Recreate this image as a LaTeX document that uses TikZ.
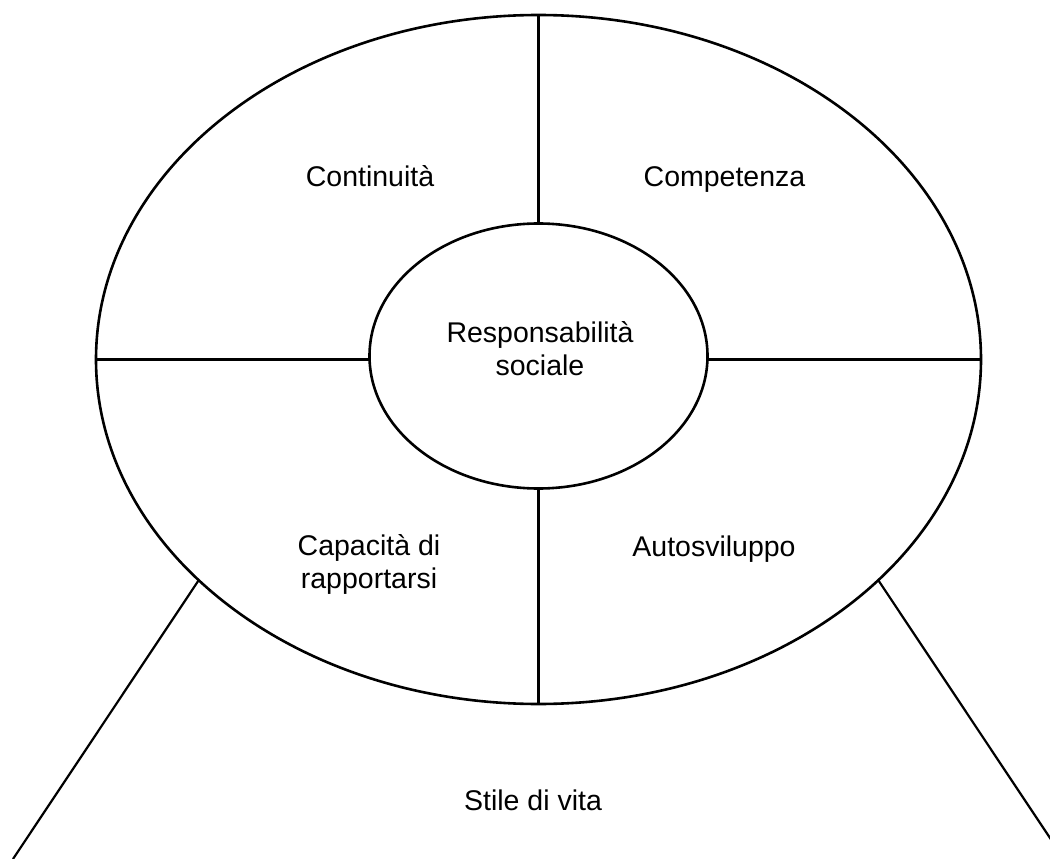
\documentclass[tikz,border=0pt]{standalone}
\usepackage{fontspec}
\setmainfont{Liberation Sans}
\usetikzlibrary{shapes.geometric}
\begin{document}
\begin{tikzpicture}[x=1pt,y=-1pt,
  ring/.style={draw,ellipse,line width=2.6pt,inner sep=0pt,outer sep=0pt},
  edge/.style={line width=2.2pt},
  lbl/.style={font=\fontsize{28.5}{33}\selectfont,align=center,inner sep=0pt,anchor=base}]
\useasboundingbox (0,0) rectangle (1050,859);
\clip (0,0) rectangle (1050,859);
\node[ring,minimum width=885pt,minimum height=689pt] (outer) at (538.5,359.5) {};
\node[ring,minimum width=338pt,minimum height=265pt] (inner) at (538.5,356) {};
\draw[edge] (outer.north) -- (inner.north);
\draw[edge] (outer.south) -- (inner.south);
\draw[edge] (outer.west) -- (outer.west -| inner.west);
\draw[edge] (outer.east) -- (outer.east -| inner.east);
\coordinate (ll) at (13,859);
\coordinate (rr) at (1064,859);
\draw[edge] (outer.213) -- (ll);
\draw[edge] (outer.327) -- (rr);
\node[lbl] (t1) at (370,186) {Continuità};
\node[lbl] (t2) at (724.5,186) {Competenza};
\node[lbl] (t3) at (540,375) {Responsabilità\\sociale};
\node[lbl] (t4) at (369,588) {Capacità di\\rapportarsi};
\node[lbl] (t5) at (714,556) {Autosviluppo};
\node[lbl] (t6) at (533,810) {Stile di vita};
\end{tikzpicture}
\end{document}
